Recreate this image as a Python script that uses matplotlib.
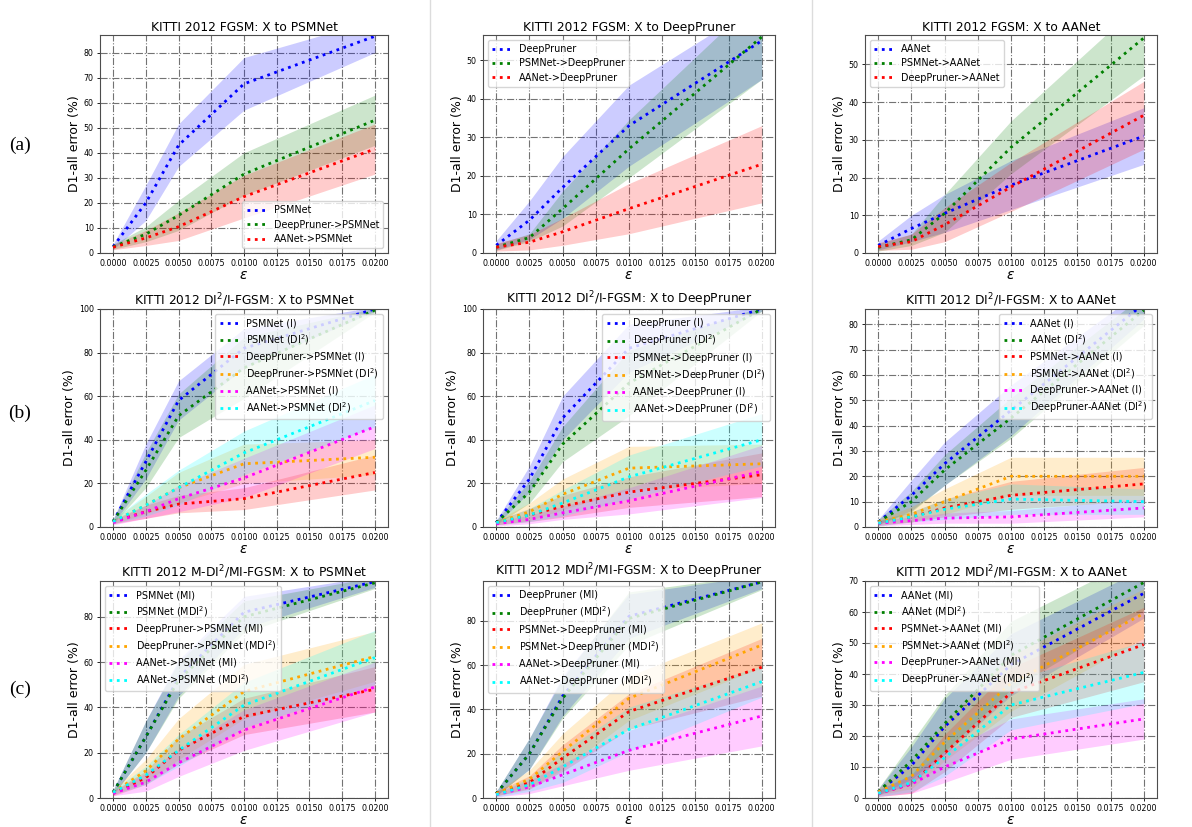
import matplotlib
matplotlib.use("Agg")
import matplotlib.pyplot as plt
from matplotlib.lines import Line2D
import numpy as np

eps = [0.0, 0.0025, 0.005, 0.01, 0.02]
xticks = [0.0, 0.0025, 0.005, 0.0075, 0.01, 0.0125, 0.015, 0.0175, 0.02]

# ---- Row (a): FGSM ----
fgsm_psm_labels = ["PSMNet", "DeepPruner->PSMNet", "AANet->PSMNet"]
fgsm_psm_mean = [[2.5, 20, 43, 67.5, 86.5], [2.5, 7.5, 15, 31.5, 53], [2.3, 6, 10.5, 22.5, 41.5]]
fgsm_psm_std = [[1, 7, 8.5, 10.5, 6.5], [1, 3, 6, 8.5, 10], [1, 3, 5.5, 8.5, 10]]

fgsm_dp_labels = ["DeepPruner", "PSMNet->DeepPruner", "AANet->DeepPruner"]
fgsm_dp_mean = [[2, 8.5, 17, 33, 55], [1.5, 4, 11.5, 27, 56], [1.5, 2.8, 5.5, 11.5, 23]]
fgsm_dp_std = [[1.2, 5, 8, 10.5, 10], [0.8, 1, 4.5, 7.5, 11], [1, 2, 3.5, 6.5, 10]]

fgsm_aa_labels = ["AANet", "PSMNet->AANet", "DeepPruner->AANet"]
fgsm_aa_mean = [[2, 6.5, 10.5, 18, 31], [1.5, 3.5, 10.5, 28, 57], [1.7, 3, 7.5, 17.5, 36.5]]
fgsm_aa_std = [[1.2, 3.5, 5, 6.5, 7.5], [1, 1.5, 5, 7, 10], [1, 2, 4.5, 6.5, 9]]

# ---- Row (b): DI2 / I-FGSM ----
di_psm_labels = ["PSMNet (I)", "PSMNet (DI$^2$)", "DeepPruner->PSMNet (I)",
                 "DeepPruner->PSMNet (DI$^2$)", "AANet->PSMNet (I)", "AANet->PSMNet (DI$^2$)"]
di_psm_mean = [[2.5, 30, 58, 82, 100], [2.5, 26, 51, 73, 99.5], [2.5, 7, 10.5, 13, 25],
               [2.5, 10, 18, 29, 32], [2, 7, 13, 22.5, 46], [2.5, 10, 18, 34, 58]]
di_psm_std = [[1, 8, 9, 9, 1], [1, 8, 10, 14, 1], [1, 3, 4, 5, 8],
              [1, 4, 7, 9, 8], [1, 3, 6, 9, 10], [1, 5, 8, 10, 12]]

di_dp_labels = ["DeepPruner (I)", "DeepPruner (DI$^2$)", "PSMNet->DeepPruner (I)",
                "PSMNet->DeepPruner (DI$^2$)", "AANet->DeepPruner (I)", "AANet->DeepPruner (DI$^2$)"]
di_dp_mean = [[2, 22, 50, 82, 100], [2, 16, 38, 66, 100], [2, 5.5, 9.5, 16, 24],
              [2, 7, 15, 27, 29], [1.5, 3.5, 6.5, 12, 25.5], [2, 5.5, 11, 23, 40]]
di_dp_std = [[1, 6, 10, 11, 1], [1, 5, 8, 15, 1], [1, 3, 5, 7, 10],
             [1, 4, 7, 10, 9], [1, 2, 3, 6, 12], [1, 3, 6, 10, 12]]

di_aa_labels = ["AANet (I)", "AANet (DI$^2$)", "PSMNet->AANet (I)",
                "PSMNet->AANet (DI$^2$)", "DeepPruner->AANet (I)", "DeepPruner-AANet (DI$^2$)"]
di_aa_mean = [[2, 12.5, 25, 46, 88], [2, 10, 22.5, 43, 85.5], [1.5, 4, 7.5, 12.5, 17],
              [2, 5, 10, 20, 20], [1.5, 2.5, 3.5, 4, 7.5], [1.5, 4, 7, 11, 10]]
di_aa_std = [[1, 6, 8.5, 10, 6], [1, 4, 6, 8, 6], [1, 2, 3.5, 5.5, 6.5],
             [1, 3, 5, 7.5, 7.5], [1, 1.5, 2, 2.5, 3.5], [1, 2, 4, 6, 5]]

# ---- Row (c): MDI2 / MI-FGSM ----
mi_psm_labels = ["PSMNet (MI)", "PSMNet (MDI$^2$)", "DeepPruner->PSMNet (MI)",
                 "DeepPruner->PSMNet (MDI$^2$)", "AANet->PSMNet (MI)", "AANet->PSMNet (MDI$^2$)"]
mi_psm_mean = [[2.5, 27, 53, 82, 95.5], [2.5, 27, 52, 80, 95], [2, 9, 21, 36, 48],
               [2.5, 12, 26, 47, 62.5], [2, 7, 15.5, 30, 49], [2.5, 10, 21, 41, 62]]
mi_psm_std = [[1, 7, 8, 7, 2.5], [1, 7, 8, 7, 2.5], [1, 3, 6, 8, 10],
              [1, 5, 9, 12, 11], [1, 4, 6, 9, 11], [1, 4, 7, 10, 12]]

mi_dp_labels = ["DeepPruner (MI)", "DeepPruner (MDI$^2$)", "PSMNet->DeepPruner (MI)",
                "PSMNet->DeepPruner (MDI$^2$)", "AANet->DeepPruner (MI)", "AANet->DeepPruner (MDI$^2$)"]
mi_dp_mean = [[2, 20, 46, 82, 97.5], [2, 20, 45, 81, 97.5], [2, 7, 18, 39, 59],
              [2, 8.5, 21, 45, 69], [1.5, 5, 10.5, 21.5, 37], [1.5, 6, 14, 31, 52.5]]
mi_dp_std = [[1, 7, 9, 10, 3], [1, 7, 9, 12, 3.5], [1, 3, 6, 8, 13],
             [1, 4, 8, 10, 10], [1, 3, 5, 9, 13.5], [1, 3, 7, 10, 7]]

mi_aa_labels = ["AANet (MI)", "AANet (MDI$^2$)", "PSMNet->AANet (MI)",
                "PSMNet->AANet (MDI$^2$)", "DeepPruner->AANet (MI)", "DeepPruner->AANet (MDI$^2$)"]
mi_aa_mean = [[2, 10.5, 23, 43, 66], [2, 12, 24, 46, 69.5], [1.5, 4.5, 14.5, 34, 49.5],
              [2, 7, 18, 37, 59.5], [1.5, 4.5, 10, 19, 25.5], [1.5, 5, 13, 30, 40.5]]
mi_aa_std = [[1, 6, 9, 10, 8], [1, 6, 9, 11, 9], [1, 3, 6, 8, 12],
             [1, 4, 6, 9, 8], [1, 3, 5, 6.5, 6.5], [1, 3, 6, 8, 10]]

colors3 = ["blue", "green", "red"]
colors6 = ["blue", "green", "red", "orange", "magenta", "cyan"]

panels = [
    ("KITTI 2012 FGSM: X to PSMNet", fgsm_psm_labels, fgsm_psm_mean, fgsm_psm_std, 87, "lower right"),
    ("KITTI 2012 FGSM: X to DeepPruner", fgsm_dp_labels, fgsm_dp_mean, fgsm_dp_std, 56.5, "upper left"),
    ("KITTI 2012 FGSM: X to AANet", fgsm_aa_labels, fgsm_aa_mean, fgsm_aa_std, 57.8, "upper left"),
    ("KITTI 2012 DI$^2$/I-FGSM: X to PSMNet", di_psm_labels, di_psm_mean, di_psm_std, 100, "upper right"),
    ("KITTI 2012 DI$^2$/I-FGSM: X to DeepPruner", di_dp_labels, di_dp_mean, di_dp_std, 100, "upper right"),
    ("KITTI 2012 DI$^2$/I-FGSM: X to AANet", di_aa_labels, di_aa_mean, di_aa_std, 86, "upper right"),
    ("KITTI 2012 M-DI$^2$/MI-FGSM: X to PSMNet", mi_psm_labels, mi_psm_mean, mi_psm_std, 95.8, "upper left"),
    ("KITTI 2012 MDI$^2$/MI-FGSM: X to DeepPruner", mi_dp_labels, mi_dp_mean, mi_dp_std, 97.9, "upper left"),
    ("KITTI 2012 MDI$^2$/MI-FGSM: X to AANet", mi_aa_labels, mi_aa_mean, mi_aa_std, 70, "upper left"),
]

W, H = 1192, 827
fig = plt.figure(figsize=(W / 100, H / 100), dpi=100)
fig.patch.set_facecolor("white")

col_px = [(100, 388), (483, 775), (865, 1157)]
row_px = [(35, 253), (309, 527), (581, 798)]

for i, (title, labels, means, stds, ytop, loc) in enumerate(panels):
    r, c = divmod(i, 3)
    x0, x1 = col_px[c]
    y0, y1 = row_px[r]
    ax = fig.add_axes([x0 / W, 1 - y1 / H, (x1 - x0) / W, (y1 - y0) / H])
    cols = colors3 if len(labels) == 3 else colors6
    handles = []
    for lab, m, s, col in zip(labels, means, stds, cols):
        m = np.array(m, dtype=float)
        s = np.array(s, dtype=float)
        ax.fill_between(eps, m - s, m + s, color=col, alpha=0.2, linewidth=0)
        ax.plot(eps, m, linestyle=":", color=col, linewidth=2.0)
        handles.append(Line2D([0], [0], linestyle=":", color=col, linewidth=2.0, label=lab))
    ax.set_xlim(-0.001, 0.021)
    ax.set_ylim(0, ytop)
    ax.set_xticks(xticks)
    ax.set_xticklabels([f"{v:.4f}" for v in xticks])
    ax.tick_params(labelsize=5.7, length=2.5, width=0.6, pad=2)
    ax.grid(True, linestyle="-.", color="0.45", linewidth=0.8)
    ax.set_axisbelow(True)
    ax.set_title(title, fontsize=8.8, pad=3)
    ax.set_ylabel("D1-all error (%)", fontsize=9, labelpad=2)
    ax.set_xlabel(r"$\epsilon$", fontsize=10, labelpad=0)
    for sp in ax.spines.values():
        sp.set_color("0.3")
        sp.set_linewidth(0.8)
    ax.legend(handles=handles, loc=loc, fontsize=6.9, handlelength=2.0,
              labelspacing=0.45, borderpad=0.45, framealpha=0.8)

for lab, y in [("(a)", 145), ("(b)", 413), ("(c)", 689)]:
    fig.text(20 / W, 1 - y / H, lab, fontsize=14, family="Liberation Serif",
             ha="center", va="center")

# faint panel separators
for x in [430, 812]:
    fig.add_artist(Line2D([x / W, x / W], [0, 1], color="#dcdcdc", linewidth=1))

fig.savefig("out.png", dpi=100, facecolor="white")
